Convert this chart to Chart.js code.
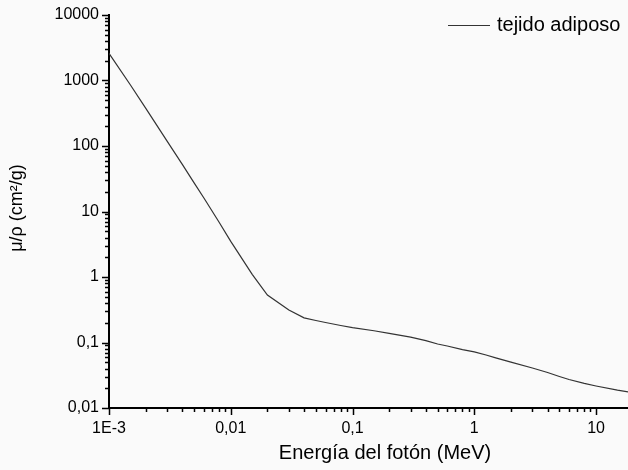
<!DOCTYPE html>
<html>
<head>
<meta charset="utf-8">
<script src="https://cdn.jsdelivr.net/npm/chart.js@4/dist/chart.umd.min.js"></script>
<style>
  html, body { margin: 0; padding: 0; background: #fafafa; overflow: hidden; }
  #wrap { width: 628px; height: 470px; }
</style>
</head>
<body>
<div id="wrap"><canvas id="chart" width="628" height="470"></canvas></div>
<script>
'use strict';

// Mass attenuation coefficient of adipose tissue vs photon energy (log-log).
var seriesLabel = 'tejido adiposo';
var energies = [0.001, 0.0015, 0.002, 0.003, 0.004, 0.005, 0.006, 0.008, 0.01, 0.015,
  0.02, 0.03, 0.04, 0.05, 0.06, 0.08, 0.1, 0.15, 0.2, 0.3, 0.4, 0.5, 0.6, 0.8,
  1, 1.25, 1.5, 2, 3, 4, 5, 6, 8, 10, 15, 20];
var muRho = [2600, 853, 378, 119, 52.4, 27.3, 16.2, 6.9, 3.5, 1.1,
  0.53, 0.313, 0.238, 0.217, 0.202, 0.182, 0.169, 0.151, 0.138, 0.121, 0.107, 0.0948, 0.0885, 0.078,
  0.072, 0.0645, 0.0583, 0.0502, 0.0408, 0.0348, 0.0303, 0.0272, 0.0237, 0.0217, 0.0188, 0.0172];

var xTickValues = [0.001, 0.01, 0.1, 1, 10];
var xTickLabels = ['1E-3', '0,01', '0,1', '1', '10'];
var yTickValues = [0.01, 0.1, 1, 10, 100, 1000, 10000];
var yTickLabels = ['0,01', '0,1', '1', '10', '100', '1000', '10000'];

var xTitle = 'Energía del fotón (MeV)';
var yTitle = 'μ/ρ (cm²/g)';

(function () {
  var FONT = '"Liberation Sans", Arial, Helvetica, sans-serif';
  var INK = '#000';

  function labelFor(values, labels, v) {
    for (var i = 0; i < values.length; i++) {
      if (Math.abs(Math.log10(v) - Math.log10(values[i])) < 1e-6) return labels[i];
    }
    return '';
  }

  // minor + major tick marks drawn outside the axes
  var tickMarks = {
    id: 'tickMarks',
    beforeDraw: function (chart) {
      var c = chart.ctx;
      c.save();
      c.fillStyle = '#fafafa';
      c.fillRect(0, 0, chart.width, chart.height);
      c.restore();
    },
    afterDraw: function (chart) {
      var c = chart.ctx;
      var xs = chart.scales.x, ys = chart.scales.y;
      var area = chart.chartArea;
      c.save();
      c.strokeStyle = INK;
      c.lineWidth = 1.5;
      c.beginPath();
      for (var e = -3; e <= 1; e++) {
        for (var m = 1; m <= 9; m++) {
          var v = m * Math.pow(10, e);
          if (v < xs.min * 0.999 || v > xs.max) continue;
          var px = Math.round(xs.getPixelForValue(v)) + 0.5;
          c.moveTo(px, area.bottom);
          c.lineTo(px, area.bottom + (m === 1 ? 7 : 4));
        }
      }
      for (var ey = -2; ey <= 4; ey++) {
        for (var my = 1; my <= 9; my++) {
          var vy = my * Math.pow(10, ey);
          if (vy < ys.min * 0.999 || vy > ys.max * 1.001) continue;
          var py = Math.round(ys.getPixelForValue(vy)) + 0.5;
          c.moveTo(area.left, py);
          c.lineTo(area.left - (my === 1 ? 7 : 4), py);
        }
      }
      c.stroke();

      // axis titles
      c.fillStyle = INK;
      c.font = '20px ' + FONT;
      c.textAlign = 'center';
      c.textBaseline = 'middle';
      c.fillText(xTitle, 385, 453);

      c.save();
      c.translate(17, 208);
      c.rotate(-Math.PI / 2);
      c.font = '18px ' + FONT;
      c.fillText(yTitle, 0, 0);
      c.restore();

      // legend
      c.strokeStyle = '#333';
      c.lineWidth = 1.2;
      c.beginPath();
      c.moveTo(448, 25.5);
      c.lineTo(490, 25.5);
      c.stroke();
      c.font = '20px ' + FONT;
      c.textAlign = 'left';
      c.fillText(chart.data.datasets[0].label, 497, 25);
      c.restore();
    }
  };

  var points = energies.map(function (x, i) { return { x: x, y: muRho[i] }; });

  new Chart(document.getElementById('chart'), {
    type: 'line',
    data: {
      datasets: [{
        label: seriesLabel,
        data: points,
        borderColor: '#333',
        borderWidth: 1.2,
        pointRadius: 0,
        tension: 0,
        fill: false
      }]
    },
    options: {
      responsive: false,
      animation: false,
      layout: { padding: { top: 15, right: 0, left: 0, bottom: 0 } },
      plugins: { legend: { display: false }, tooltip: { enabled: false } },
      scales: {
        x: {
          type: 'logarithmic',
          min: 0.001,
          max: 18.3,
          afterBuildTicks: function (s) { s.ticks = xTickValues.map(function (v) { return { value: v }; }); },
          afterFit: function (s) { s.height = 62; },
          grid: { display: true, drawOnChartArea: false, tickLength: 7, tickColor: 'rgba(0,0,0,0)' },
          border: { display: true, color: INK, width: 2 },
          ticks: {
            autoSkip: false,
            maxRotation: 0,
            padding: 4,
            color: INK,
            font: { family: FONT, size: 16 },
            callback: function (v) { return labelFor(xTickValues, xTickLabels, v); }
          }
        },
        y: {
          type: 'logarithmic',
          min: 0.01,
          max: 10000,
          afterBuildTicks: function (s) { s.ticks = yTickValues.map(function (v) { return { value: v }; }); },
          afterFit: function (s) { s.width = 109; },
          grid: { display: true, drawOnChartArea: false, tickLength: 7, tickColor: 'rgba(0,0,0,0)' },
          border: { display: true, color: INK, width: 2 },
          ticks: {
            autoSkip: false,
            padding: 3,
            color: INK,
            font: { family: FONT, size: 16 },
            callback: function (v) { return labelFor(yTickValues, yTickLabels, v); }
          }
        }
      }
    },
    plugins: [tickMarks]
  });
})();
</script>
</body>
</html>
